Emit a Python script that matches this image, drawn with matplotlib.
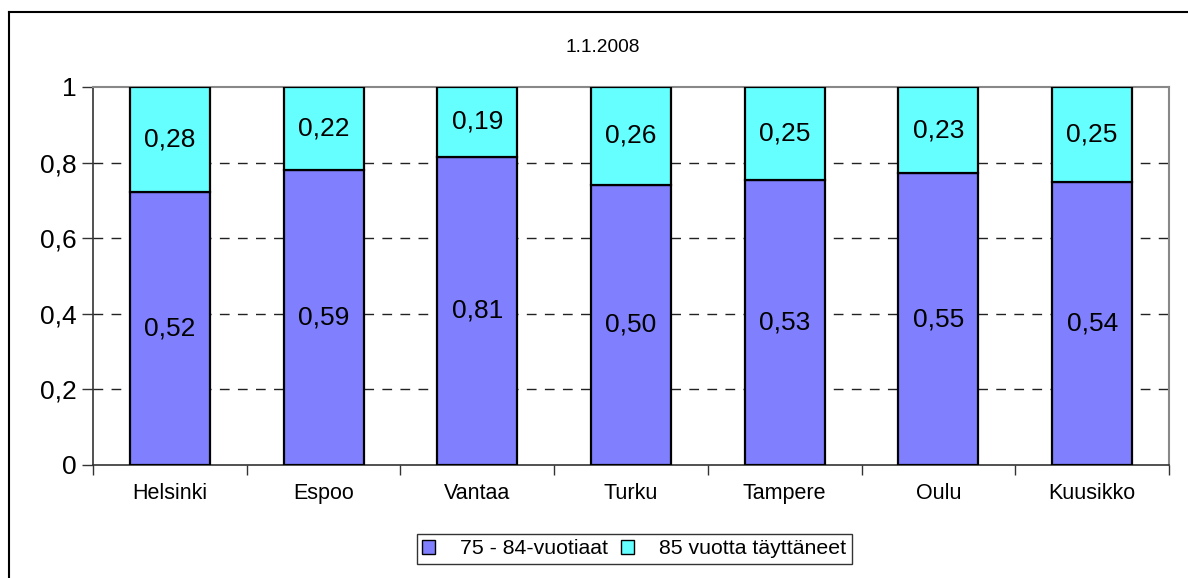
import matplotlib.pyplot as plt
import matplotlib
from matplotlib.patches import Patch
from matplotlib.lines import Line2D
import numpy as np

matplotlib.rcParams['font.family'] = ['Liberation Sans', 'DejaVu Sans']

# data
cities = ['Helsinki', 'Espoo', 'Vantaa', 'Turku', 'Tampere', 'Oulu', 'Kuusikko']
share_75_84 = [0.723, 0.780, 0.815, 0.741, 0.754, 0.772, 0.748]   # bar height of lower part
label_75_84 = [0.52, 0.59, 0.81, 0.50, 0.53, 0.55, 0.54]
label_85 = [0.28, 0.22, 0.19, 0.26, 0.25, 0.23, 0.25]
yticks = [0, 0.2, 0.4, 0.6, 0.8, 1]
ytick_labels = ['0', '0,2', '0,4', '0,6', '0,8', '1']
title = '1.1.2008'
series_names = ['75 - 84-vuotiaat', '85 vuotta täyttäneet']

col_low = '#8080ff'
col_high = '#66ffff'

fig = plt.figure(figsize=(11.88, 5.78), dpi=100)
ax = fig.add_axes([93/1188, 1-465/578, (1169-93)/1188, (465-87)/578])

x = np.arange(len(cities))
low = np.array(share_75_84)
high = 1 - low
w = 0.52
ax.bar(x, low, w, color=col_low, edgecolor='black', linewidth=1.6, zorder=3)
ax.bar(x, high, w, bottom=low, color=col_high, edgecolor='black', linewidth=1.6, zorder=3)

for i in range(len(cities)):
    ax.text(x[i], low[i]/2, ('%.2f' % label_75_84[i]).replace('.', ','),
            ha='center', va='center', fontsize=19, zorder=4)
    ax.text(x[i], low[i] + high[i]/2, ('%.2f' % label_85[i]).replace('.', ','),
            ha='center', va='center', fontsize=19, zorder=4)

ax.set_xlim(-0.5, len(cities)-0.5)
ax.set_ylim(0, 1)
ax.set_yticks(yticks)
ax.set_yticklabels(ytick_labels, fontsize=19)
ax.tick_params(axis='y', length=8, width=1, color='#333333', pad=4)

ax.set_xticks(x)
ax.set_xticklabels(cities, fontsize=15.5)
ax.set_xticks(np.arange(-0.5, len(cities)), minor=True)
ax.tick_params(axis='x', which='major', length=0, pad=13)
ax.tick_params(axis='x', which='minor', length=7, width=1, color='#333333')

for yv in yticks[1:-1]:
    ax.axhline(yv, color='#222222', linestyle=(0, (7, 6)), linewidth=1, zorder=1)

ax.spines['left'].set_color('#333333')
ax.spines['bottom'].set_color('#333333')
ax.spines['left'].set_linewidth(1.2)
ax.spines['bottom'].set_linewidth(1.2)
ax.spines['top'].set_color('#888888')
ax.spines['right'].set_color('#888888')
ax.spines['top'].set_linewidth(1.5)
ax.spines['right'].set_linewidth(1.5)

fig.text(603/1188, 1-48/578, title, ha='center', va='center', fontsize=13.8)

handles = [Patch(facecolor=col_low, edgecolor='black', linewidth=1),
           Patch(facecolor=col_high, edgecolor='black', linewidth=1)]
leg = fig.legend(handles, series_names, loc='center', bbox_to_anchor=(634/1188, 1-549/578),
                 ncol=2, fontsize=15.3, frameon=True, fancybox=False, edgecolor='black',
                 handlelength=0.6, handleheight=0.6, handletextpad=1.2, columnspacing=0.6,
                 borderpad=0.25, borderaxespad=0)
leg.get_frame().set_linewidth(1)

# outer chart border (only top and left edge visible)
fig.add_artist(Line2D([9/1188, 9/1188], [0, 1-12/578], color='black', linewidth=1.5))
fig.add_artist(Line2D([9/1188, 1], [1-12/578, 1-12/578], color='black', linewidth=1.5))

fig.savefig('out.png', dpi=100)
